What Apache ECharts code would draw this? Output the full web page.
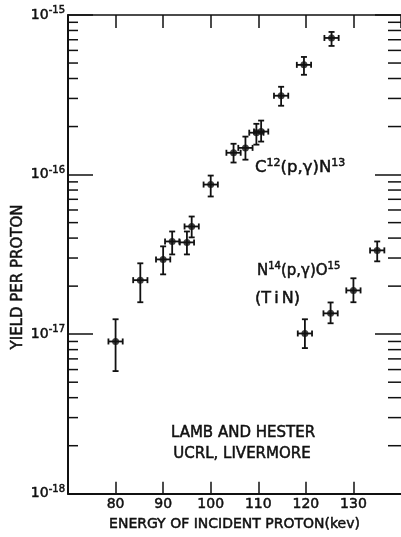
<!DOCTYPE html>
<html><head><meta charset="utf-8">
<script src="https://cdn.jsdelivr.net/npm/echarts@6/dist/echarts.min.js"></script>
<style>html,body{margin:0;padding:0;background:#fff}#c{width:401px;height:537px}</style>
</head><body><div id="c"></div>
<script>
// ---- data ----
const c12Energy = [80.0, 85.2, 90.0, 91.9, 95.0, 96.0, 100.0, 104.8, 107.3, 109.6, 110.6, 114.8, 119.6, 125.4];
const c12Yield  = [9.0e-18, 2.18e-17, 2.94e-17, 3.81e-17, 3.76e-17, 4.73e-17, 8.66e-17, 1.37e-16, 1.47e-16, 1.83e-16, 1.86e-16, 3.12e-16, 4.87e-16, 7.18e-16];
const c12Low    = [5.87e-18, 1.585e-17, 2.37e-17, 3.16e-17, 3.16e-17, 4.04e-17, 7.29e-17, 1.19e-16, 1.24e-16, 1.54e-16, 1.61e-16, 2.70e-16, 4.22e-16, 6.40e-16];
const c12High   = [1.24e-17, 2.78e-17, 3.55e-17, 4.40e-17, 4.40e-17, 5.46e-17, 9.86e-17, 1.56e-16, 1.73e-16, 2.08e-16, 2.18e-16, 3.55e-16, 5.46e-16, 7.83e-16];
const n14Energy = [119.8, 125.2, 130.0, 135.0];
const n14Yield  = [1.01e-17, 1.35e-17, 1.88e-17, 3.35e-17];
const n14Low    = [8.18e-18, 1.17e-17, 1.585e-17, 2.86e-17];
const n14High   = [1.24e-17, 1.58e-17, 2.24e-17, 3.81e-17];
const energyErr = 1.5;
const xMin = 70, xMax = 140, xStep = 10;
const yMin = 1e-18, yMax = 1e-15;
const yDecades = [1e-18, 1e-17, 1e-16];
const minorMultipliers = [2, 3, 4, 5, 6, 7, 8, 9];

const FONT = 'DejaVu Sans';
const INK = '#111';
const HEAVY = { textBorderColor: INK, textBorderWidth: 0.5 };   // for ECharts labels
const GHEAVY = { stroke: INK, lineWidth: 0.5 };                // for graphic text

const points = c12Energy.map((e, i) => [e, c12Yield[i], c12Low[i], c12High[i]])
  .concat(n14Energy.map((e, i) => [e, n14Yield[i], n14Low[i], n14High[i]]));
const minorTicks = [];
yDecades.forEach(d => minorMultipliers.forEach(m => minorTicks.push([xMin, d * m])));

function errRender(params, api) {
  const x = api.value(0), y = api.value(1), lo = api.value(2), hi = api.value(3);
  const pt = api.coord([x, hi]), pb = api.coord([x, lo]);
  const pl = api.coord([x - energyErr, y]), pr = api.coord([x + energyErr, y]);
  const cap = 3;
  const st = { stroke: INK, lineWidth: 1.8 };
  const L = (x1, y1, x2, y2) => ({ type: 'line', shape: { x1, y1, x2, y2 }, style: st });
  return { type: 'group', children: [
    L(pt[0], pt[1], pb[0], pb[1]),
    L(pt[0] - cap, pt[1], pt[0] + cap, pt[1]),
    L(pb[0] - cap, pb[1], pb[0] + cap, pb[1]),
    L(pl[0], pl[1], pr[0], pr[1]),
    L(pl[0], pl[1] - cap, pl[0], pl[1] + cap),
    L(pr[0], pr[1] - cap, pr[0], pr[1] + cap)
  ]};
}
function minorRender(params, api) {
  const v = api.value(1);
  const a = api.coord([xMin, v]), b = api.coord([xMax, v]);
  const st = { stroke: INK, lineWidth: 1.5 };
  return { type: 'group', children: [
    { type: 'line', shape: { x1: a[0], y1: a[1], x2: a[0] + 10, y2: a[1] }, style: st },
    { type: 'line', shape: { x1: b[0] - 13, y1: b[1], x2: b[0], y2: b[1] }, style: st }
  ]};
}

const chart = echarts.init(document.getElementById('c'), null, { renderer: 'canvas' });
const axisLineStyle = { color: INK, width: 2 };
chart.setOption({
  animation: false,
  backgroundColor: '#fff',
  grid: { left: 68, right: -3, top: 15, bottom: 42 },
  xAxis: [{
    type: 'value', min: xMin, max: xMax, interval: xStep, position: 'bottom',
    name: 'ENERGY OF INCIDENT PROTON(kev)', nameLocation: 'middle', nameGap: 24,
    nameTextStyle: Object.assign({ fontFamily: FONT, fontSize: 14, color: INK }, HEAVY),
    axisLine: { show: true, lineStyle: axisLineStyle },
    axisTick: { show: true, inside: true, length: 12, lineStyle: { color: INK, width: 1.5 } },
    axisLabel: Object.assign({ fontFamily: FONT, fontSize: 14, color: INK, margin: 4,
      showMinLabel: false, showMaxLabel: false,
      formatter: v => (v === xMin || v === xMax) ? '' : String(v) }, HEAVY),
    splitLine: { show: false }
  }, {
    type: 'value', min: xMin, max: xMax, interval: xStep, position: 'top',
    axisLine: { show: true, lineStyle: { color: INK, width: 1.6 } },
    axisTick: { show: true, inside: true, length: 13, lineStyle: { color: INK, width: 1.5 } },
    axisLabel: { show: false }, splitLine: { show: false }
  }],
  yAxis: [{
    type: 'log', logBase: 10, min: yMin, max: yMax, position: 'left',
    axisLine: { show: true, lineStyle: axisLineStyle },
    axisTick: { show: true, inside: true, length: 25, lineStyle: { color: INK, width: 1.5 } },
    axisLabel: { fontFamily: FONT, color: INK, margin: 3,
      formatter: v => '{b|10}{s|-' + Math.abs(Math.round(Math.log10(v))) + '}',
      rich: { b: Object.assign({ fontFamily: FONT, fontSize: 14, color: INK }, HEAVY),
              s: Object.assign({ fontFamily: FONT, fontSize: 10, color: INK, padding: [0, 0, 9, 0] }, HEAVY) } },
    splitLine: { show: false }
  }, {
    type: 'log', logBase: 10, min: yMin, max: yMax, position: 'right',
    axisLine: { show: false },
    axisTick: { show: true, inside: true, length: 26, lineStyle: { color: INK, width: 1.5 } },
    axisLabel: { show: false }, splitLine: { show: false }
  }],
  graphic: [
    { type: 'text', x: 18, y: 277, rotation: Math.PI / 2,
      style: Object.assign({ text: 'YIELD PER PROTON', fontFamily: FONT, fontSize: 15, fill: INK, align: 'center', verticalAlign: 'middle' }, GHEAVY) },
    { type: 'text', x: 255, y: 168,
      style: { text: '{m|C}{s|12}{m|(p,γ)N}{s|13}', fill: INK, verticalAlign: 'middle',
        rich: { m: Object.assign({ fontFamily: FONT, fontSize: 16.5, fill: INK }, GHEAVY),
                s: Object.assign({ fontFamily: FONT, fontSize: 11, fill: INK, padding: [0, 0, 10, 0] }, GHEAVY) } } },
    { type: 'text', x: 257, y: 271,
      style: { text: '{m|N}{s|14}{m|(p,γ)O}{s|15}', fill: INK, verticalAlign: 'middle',
        rich: { m: Object.assign({ fontFamily: FONT, fontSize: 15, fill: INK }, GHEAVY),
                s: Object.assign({ fontFamily: FONT, fontSize: 10, fill: INK, padding: [0, 0, 9, 0] }, GHEAVY) } } },
    { type: 'text', x: 255, y: 299,
      style: Object.assign({ text: '(T\u2009i\u2009N)', fontFamily: FONT, fontSize: 16, fill: INK, verticalAlign: 'middle' }, GHEAVY) },
    { type: 'text', x: 243, y: 433,
      style: Object.assign({ text: 'LAMB AND HESTER', fontFamily: FONT, fontSize: 15, fill: INK, align: 'center', verticalAlign: 'middle' }, GHEAVY) },
    { type: 'text', x: 242, y: 454,
      style: Object.assign({ text: 'UCRL, LIVERMORE', fontFamily: FONT, fontSize: 15, fill: INK, align: 'center', verticalAlign: 'middle' }, GHEAVY) }
  ],
  series: [{
    type: 'custom', name: 'minor', renderItem: minorRender, data: minorTicks,
    encode: { x: 0, y: 1 }, clip: false, silent: true, z: 3
  }, {
    type: 'custom', name: 'errors', renderItem: errRender, data: points,
    encode: { x: 0, y: [1, 2, 3] }, clip: false, z: 4
  }, {
    type: 'scatter', name: 'C12', data: c12Energy.map((e, i) => [e, c12Yield[i]]),
    symbol: 'circle', symbolSize: 7, itemStyle: { color: INK }, z: 5
  }, {
    type: 'scatter', name: 'N14', data: n14Energy.map((e, i) => [e, n14Yield[i]]),
    symbol: 'circle', symbolSize: 7, itemStyle: { color: INK }, z: 5
  }]
});
</script></body></html>
